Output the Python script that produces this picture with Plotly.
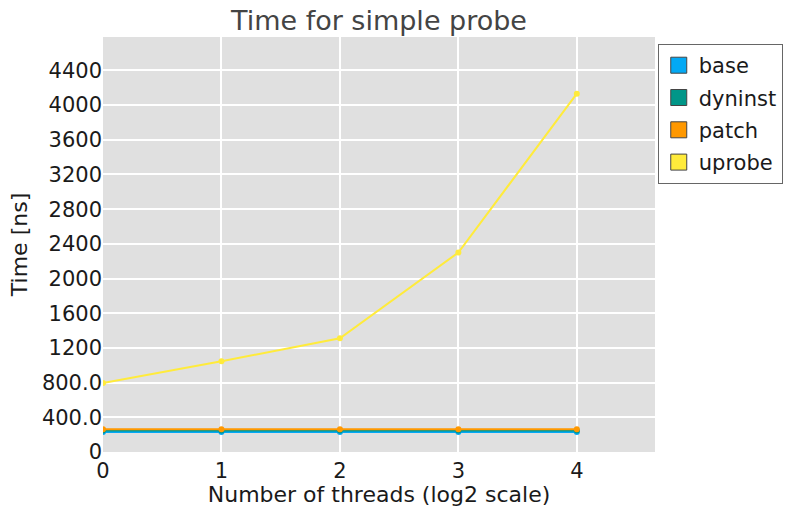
import plotly.graph_objects as go

threads_log2 = [0, 1, 2, 3, 4]
base = [232, 232, 232, 232, 232]
dyninst = [248, 248, 248, 248, 248]
patch = [262, 262, 262, 262, 262]
uprobe = [796, 1046, 1312, 2300, 4131]

series_names = ["base", "dyninst", "patch", "uprobe"]
series_values = [base, dyninst, patch, uprobe]
colors = ["#03a9f4", "#009688", "#ff9800", "#ffeb3b"]

y_ticks = [0, 400, 800, 1200, 1600, 2000, 2400, 2800, 3200, 3600, 4000, 4400]
y_ticktext = ["0", "400.0", "800.0", "1200", "1600", "2000", "2400", "2800",
              "3200", "3600", "4000", "4400"]
x_ticks = [0, 1, 2, 3, 4]

font_family = "DejaVu Sans"
text_color = "#1a1a1a"

fig = go.Figure()
for name, vals, col in zip(series_names, series_values, colors):
    fig.add_trace(go.Scatter(
        x=threads_log2, y=vals, mode="lines+markers", name=name,
        line=dict(color=col, width=2), marker=dict(color=col, size=6),
        showlegend=False, legendgroup=name,
    ))
for name, col in zip(series_names, colors):
    fig.add_trace(go.Scatter(
        x=[None], y=[None], mode="markers", name=name, legendgroup=name,
        marker=dict(symbol="square", color=col, size=16,
                    line=dict(color="#444444", width=1)),
        showlegend=True,
    ))

fig.update_layout(
    width=786, height=507,
    margin=dict(l=103, r=131, t=37, b=55, autoexpand=False),
    paper_bgcolor="white", plot_bgcolor="#e0e0e0",
    font=dict(family=font_family, size=21, color=text_color),
    title=dict(text="Time for simple probe", x=0.5, xref="paper",
               xanchor="center", y=0.96, yanchor="middle",
               font=dict(family=font_family, size=27, color="#444444")),
    legend=dict(x=1.005, xanchor="left", y=0.983, yanchor="top",
                bgcolor="white", bordercolor="#666666", borderwidth=1,
                font=dict(family=font_family, size=21, color=text_color),
                traceorder="grouped", tracegroupgap=2, itemwidth=30),
    xaxis=dict(range=[0, 4.66], tickvals=x_ticks, ticks="",
               showgrid=True, gridcolor="white", gridwidth=2, zeroline=False,
               ticklabelstandoff=4,
               title=dict(text="Number of threads (log2 scale)", standoff=0,
                          font=dict(size=22, color=text_color)),
               tickfont=dict(size=21, color=text_color)),
    yaxis=dict(range=[0, 4785], tickvals=y_ticks, ticktext=y_ticktext, ticks="",
               showgrid=True, gridcolor="white", gridwidth=2, zeroline=False,
               title=dict(text="Time [ns]", standoff=8,
                          font=dict(size=22, color=text_color)),
               tickfont=dict(size=21, color=text_color)),
)

fig.write_html("out.html")
